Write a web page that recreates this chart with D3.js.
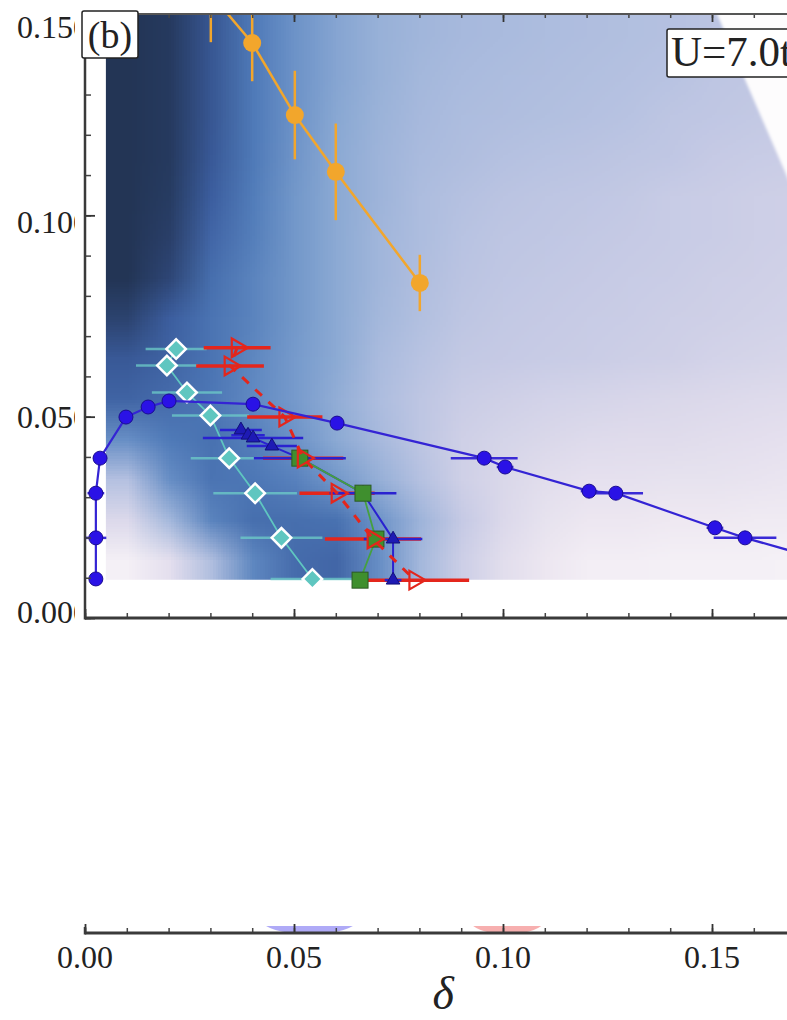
<!DOCTYPE html>
<meta charset="utf-8">
<script src="https://d3js.org/d3.v7.min.js"></script>
<style>
  body { margin: 0; background: #fff; }
  svg { display: block; }
  text { font-family: "Liberation Serif", "DejaVu Serif", serif; fill: #222; }
</style>
<div id="my_dataviz"></div>
<script>

// ---- values ----

// background map: column centres (delta), row centres (y), shading level 0..1
var hmDelta = [0.01,0.02,0.03,0.04,0.05,0.06,0.07,0.08,0.09,0.10,0.11,0.12,0.13,0.14,0.15,0.16,0.17,0.18];
var hmY = [0.145,0.135,0.125,0.115,0.105,0.095,0.085,0.075,0.065,0.055,0.045,0.035,0.025,0.015];
var hmVal = [
  [1.00,0.97,0.83,0.70,0.60,0.52,0.46,0.43,0.41,0.40,0.39,0.38,0.37,0.36,0.34,0.33,0.32,0.31],
  [1.00,0.97,0.83,0.70,0.60,0.52,0.46,0.42,0.40,0.39,0.38,0.37,0.36,0.35,0.33,0.32,0.31,0.30],
  [1.00,0.97,0.83,0.70,0.60,0.51,0.45,0.41,0.39,0.38,0.37,0.36,0.35,0.33,0.32,0.31,0.30,0.29],
  [1.00,0.97,0.82,0.70,0.59,0.50,0.44,0.40,0.38,0.36,0.35,0.34,0.33,0.32,0.30,0.29,0.28,0.27],
  [1.00,0.96,0.80,0.69,0.58,0.50,0.44,0.39,0.36,0.34,0.33,0.32,0.31,0.29,0.28,0.27,0.26,0.25],
  [1.00,0.94,0.77,0.68,0.58,0.50,0.43,0.39,0.35,0.33,0.32,0.31,0.30,0.29,0.28,0.27,0.26,0.25],
  [1.00,0.90,0.74,0.66,0.58,0.50,0.43,0.38,0.34,0.32,0.31,0.30,0.29,0.28,0.27,0.26,0.25,0.24],
  [0.92,0.80,0.72,0.66,0.58,0.50,0.42,0.37,0.33,0.31,0.30,0.29,0.28,0.27,0.26,0.25,0.24,0.23],
  [0.82,0.78,0.72,0.65,0.57,0.50,0.40,0.35,0.31,0.30,0.29,0.28,0.27,0.26,0.24,0.23,0.22,0.21],
  [0.78,0.75,0.71,0.64,0.57,0.48,0.39,0.33,0.28,0.26,0.24,0.23,0.22,0.21,0.20,0.19,0.18,0.17],
  [0.62,0.70,0.73,0.68,0.60,0.50,0.41,0.33,0.26,0.23,0.21,0.19,0.18,0.18,0.17,0.16,0.15,0.14],
  [0.36,0.62,0.72,0.71,0.67,0.58,0.47,0.36,0.26,0.21,0.17,0.15,0.15,0.14,0.14,0.13,0.12,0.12],
  [0.20,0.42,0.66,0.74,0.74,0.73,0.60,0.44,0.30,0.20,0.14,0.11,0.11,0.10,0.10,0.09,0.09,0.08],
  [0.06,0.16,0.38,0.65,0.75,0.77,0.62,0.42,0.27,0.17,0.11,0.07,0.07,0.06,0.06,0.06,0.05,0.05]
];
// white wedge in the upper right corner of the map (its left edge)
var wedgeDelta = [0.1512, 0.1574, 0.1680, 0.1780, 0.1900];
var wedgeY     = [0.1500, 0.1349, 0.1095, 0.0840, 0.0550];

// orange circles, vertical error bars
var orangeDelta = [0.0301, 0.0400, 0.0502, 0.0600, 0.0801];
var orangeY     = [0.1550, 0.1428, 0.1249, 0.1108, 0.0832];
var orangeErr   = [0.0120, 0.0095, 0.0110, 0.0120, 0.0070];

// blue circles, horizontal error bars
var circDelta = [0.0026,0.0026,0.0026,0.0036,0.0098,0.0151,0.0201,0.0402,0.0603,0.0955,0.1005,0.1206,0.1270,0.1507,0.1579,0.1800];
var circY     = [0.0097,0.0199,0.0310,0.0397,0.0499,0.0524,0.0539,0.0531,0.0484,0.0397,0.0375,0.0315,0.0310,0.0224,0.0199,0.0134];
var circErr   = [0.0015,0.0025,0.0020,0.0010,0,0,0,0,0,0.0080,0.0020,0.0020,0.0065,0.0020,0.0075,0];

// blue triangles, horizontal error bars
var triDelta = [0.0373,0.0390,0.0402,0.0447,0.0514,0.0665,0.0737,0.0737];
var triY     = [0.0467,0.0454,0.0447,0.0427,0.0397,0.0310,0.0196,0.0094];
var triErr   = [0.0050,0.0040,0.0120,0.0060,0.0110,0.0080,0.0070,0.0020];

// green squares
var sqDelta = [0.0514,0.0665,0.0696,0.0658];
var sqY     = [0.0397,0.0310,0.0196,0.0094];

// red open triangles, horizontal error bars, dashed line
var redDelta = [0.0364,0.0347,0.0478,0.0522,0.0603,0.0689,0.0789];
var redY     = [0.0671,0.0626,0.0499,0.0397,0.0310,0.0196,0.0094];
var redErr   = [0.0080,0.0081,0.0090,0.0096,0.0090,0.0115,0.0130];

// cyan diamonds, horizontal error bars
var diaDelta = [0.0218,0.0196,0.0244,0.0300,0.0345,0.0407,0.0470,0.0544];
var diaY     = [0.0668,0.0627,0.0560,0.0503,0.0397,0.0310,0.0199,0.0097];
var diaErr   = [0.0073,0.0074,0.0084,0.0092,0.0092,0.0100,0.0098,0.0100];

// lower panel: shapes peeking above its axis
var blobDelta = [0.0537, 0.1010];
var blobHalfW = [0.0115, 0.0090];
var blobColor = ["rgba(110,100,240,0.55)", "rgba(240,110,110,0.55)"];

var tickLabels = ["0.00", "0.05", "0.10", "0.15"];
var tickValues = [0, 0.05, 0.10, 0.15];
var yLabels = ["0.150", "0.100", "0.050", "0.000"];
var yLabelValues = [0.15, 0.10, 0.05, 0.0];

// ---- layout ----
var width = 787, height = 1020;

var x = d3.scaleLinear().domain([0, 0.05]).range([85, 294]);
var y = d3.scaleLinear().domain([0, 0.15]).range([618, 14]);
var yLab = d3.scaleLinear().domain([0, 0.15]).range([612, 27]);
var yBottomAxis = 933;

var svg = d3.select("#my_dataviz")
  .append("svg")
    .attr("width", width)
    .attr("height", height);

svg.append("rect").attr("width", width).attr("height", height).attr("fill", "#fff");

var defs = svg.append("defs");
defs.append("clipPath").attr("id", "plotclip")
  .append("rect")
    .attr("x", x(0)).attr("y", y(0.15))
    .attr("width", width - x(0)).attr("height", y(0) - y(0.15));
defs.append("clipPath").attr("id", "labclip")
  .append("rect").attr("x", 0).attr("y", 0).attr("width", 75).attr("height", 700);
defs.append("clipPath").attr("id", "blobclip")
  .append("rect").attr("x", 0).attr("y", 926).attr("width", width).attr("height", yBottomAxis - 926);
defs.append("filter").attr("id", "soft").attr("x", "-10%").attr("y", "-10%").attr("width", "120%").attr("height", "120%")
  .append("feGaussianBlur").attr("stdDeviation", 1.6);

var plot = svg.append("g").attr("clip-path", "url(#plotclip)");

// background map, drawn as small image and smoothed when scaled up
var shade = d3.scaleLinear()
  .domain([0, 0.1, 0.2, 0.3, 0.4, 0.5, 0.6, 0.7, 0.8, 0.9, 1])
  .range(["#fcfafc","#efe9f2","#dcd9eb","#c6cae5","#aabbde","#8caad4","#6d93c8","#4f7ab8","#3c5e9f","#2e4676","#233555"]);

var cols = hmDelta.length, rows = hmY.length;
var canvas = document.createElement("canvas");
canvas.width = cols; canvas.height = rows;
var ctx = canvas.getContext("2d");
var img = ctx.createImageData(cols, rows);
hmVal.forEach(function(row, j) {
  row.forEach(function(v, i) {
    var c = d3.rgb(shade(v));
    var k = 4 * (j * cols + i);
    img.data[k] = c.r; img.data[k + 1] = c.g; img.data[k + 2] = c.b; img.data[k + 3] = 255;
  });
});
ctx.putImageData(img, 0, 0);

var dx = hmDelta[1] - hmDelta[0];
plot.append("image")
  .attr("href", canvas.toDataURL())
  .attr("x", x(hmDelta[0] - dx / 2))
  .attr("width", x(hmDelta[cols - 1] + dx / 2) - x(hmDelta[0] - dx / 2))
  .attr("y", y(0.15))
  .attr("height", y(0.0095) - y(0.15))
  .attr("preserveAspectRatio", "none");

var line = d3.line().x(function(d) { return x(d[0]); }).y(function(d) { return y(d[1]); });
function pts(a, b) { return a.map(function(v, i) { return [v, b[i]]; }); }

var wedge = pts(wedgeDelta, wedgeY);
wedge.push([0.25, wedgeY[wedgeY.length - 1]], [0.25, 0.16], [wedgeDelta[0], 0.16]);
plot.append("path").attr("d", line(wedge) + "Z")
  .attr("fill", "#fdfcfd").attr("filter", "url(#soft)");

// orange series
var orangeCol = "#f2a62c";
plot.selectAll("orErr").data(d3.range(orangeDelta.length)).enter().append("line")
  .attr("x1", function(i) { return x(orangeDelta[i]); })
  .attr("x2", function(i) { return x(orangeDelta[i]); })
  .attr("y1", function(i) { return y(orangeY[i] - orangeErr[i]); })
  .attr("y2", function(i) { return y(orangeY[i] + orangeErr[i]); })
  .attr("stroke", orangeCol).attr("stroke-width", 2.5);
plot.append("path").attr("d", line(pts(orangeDelta, orangeY)))
  .attr("fill", "none").attr("stroke", orangeCol).attr("stroke-width", 2.5);
plot.selectAll("orDot").data(d3.range(orangeDelta.length)).enter().append("circle")
  .attr("cx", function(i) { return x(orangeDelta[i]); })
  .attr("cy", function(i) { return y(orangeY[i]); })
  .attr("r", 9).attr("fill", orangeCol);

// cyan diamonds
var cyanCol = "#5fc6c0";
plot.selectAll("diaErr").data(d3.range(diaDelta.length)).enter().append("line")
  .attr("x1", function(i) { return x(diaDelta[i] - diaErr[i]); })
  .attr("x2", function(i) { return x(diaDelta[i] + diaErr[i]); })
  .attr("y1", function(i) { return y(diaY[i]); })
  .attr("y2", function(i) { return y(diaY[i]); })
  .attr("stroke", "rgba(110,205,200,0.75)").attr("stroke-width", 2.5);
plot.append("path").attr("d", line(pts(diaDelta, diaY)))
  .attr("fill", "none").attr("stroke", cyanCol).attr("stroke-width", 1.8);
plot.selectAll("diaDot").data(d3.range(diaDelta.length)).enter().append("path")
  .attr("d", d3.symbol().type(d3.symbolSquare).size(190))
  .attr("transform", function(i) { return "translate(" + x(diaDelta[i]) + "," + y(diaY[i]) + ")rotate(45)"; })
  .attr("fill", cyanCol).attr("stroke", "#fff").attr("stroke-width", 2.5);

// red error bars
var redCol = "#e4261c";
plot.selectAll("redErr").data(d3.range(redDelta.length)).enter().append("line")
  .attr("x1", function(i) { return x(redDelta[i] - redErr[i]); })
  .attr("x2", function(i) { return x(redDelta[i] + redErr[i]); })
  .attr("y1", function(i) { return y(redY[i]); })
  .attr("y2", function(i) { return y(redY[i]); })
  .attr("stroke", redCol).attr("stroke-width", 3.5);

// blue triangles
var triCol = "#1e1ab4";
plot.selectAll("triErr").data(d3.range(triDelta.length)).enter().append("line")
  .attr("x1", function(i) { return x(triDelta[i] - triErr[i]); })
  .attr("x2", function(i) { return x(triDelta[i] + triErr[i]); })
  .attr("y1", function(i) { return y(triY[i]); })
  .attr("y2", function(i) { return y(triY[i]); })
  .attr("stroke", "#2a22d0").attr("stroke-width", 2.5);
plot.append("path").attr("d", line(pts(triDelta, triY)))
  .attr("fill", "none").attr("stroke", "#2a22d0").attr("stroke-width", 2);
plot.selectAll("triDot").data(d3.range(triDelta.length)).enter().append("path")
  .attr("d", d3.symbol().type(d3.symbolTriangle).size(80))
  .attr("transform", function(i) { return "translate(" + x(triDelta[i]) + "," + y(triY[i]) + ")"; })
  .attr("fill", triCol).attr("stroke", "#12107a").attr("stroke-width", 1);

// green squares
var greenCol = "#3f8f2e";
plot.append("path").attr("d", line(pts(sqDelta, sqY)))
  .attr("fill", "none").attr("stroke", "#45a040").attr("stroke-width", 1.8);
plot.selectAll("sqDot").data(d3.range(sqDelta.length)).enter().append("rect")
  .attr("x", function(i) { return x(sqDelta[i]) - 8; })
  .attr("y", function(i) { return y(sqY[i]) - 8; })
  .attr("width", 16).attr("height", 16)
  .attr("fill", greenCol).attr("stroke", "#2c5a22").attr("stroke-width", 1);

// red dashed line and open triangles
plot.append("path").attr("d", line(pts(redDelta, redY)))
  .attr("fill", "none").attr("stroke", redCol).attr("stroke-width", 3)
  .attr("stroke-dasharray", "9,9");
plot.selectAll("redDot").data(d3.range(redDelta.length)).enter().append("path")
  .attr("d", d3.symbol().type(d3.symbolTriangle).size(150))
  .attr("transform", function(i) { return "translate(" + x(redDelta[i]) + "," + y(redY[i]) + ")rotate(90)"; })
  .attr("fill", "none").attr("stroke", redCol).attr("stroke-width", 2.2);

// blue circles
var circCol = "#2a12e6";
plot.selectAll("circErr").data(d3.range(circDelta.length)).enter().append("line")
  .attr("x1", function(i) { return x(circDelta[i] - circErr[i]); })
  .attr("x2", function(i) { return x(circDelta[i] + circErr[i]); })
  .attr("y1", function(i) { return y(circY[i]); })
  .attr("y2", function(i) { return y(circY[i]); })
  .attr("stroke", "#3a2ad6").attr("stroke-width", 2.5);
plot.append("path").attr("d", line(pts(circDelta, circY)))
  .attr("fill", "none").attr("stroke", "#3424d4").attr("stroke-width", 2.2);
plot.selectAll("circDot").data(d3.range(circDelta.length)).enter().append("circle")
  .attr("cx", function(i) { return x(circDelta[i]); })
  .attr("cy", function(i) { return y(circY[i]); })
  .attr("r", 7).attr("fill", circCol).attr("stroke", "#1a0c90").attr("stroke-width", 1);

// ---- frame and ticks, top panel ----
var minorT = d3.range(0, 0.2, 0.01), majorT = [0, 0.05, 0.10, 0.15];
var yMinor = d3.range(0, 0.151, 0.01);

function styleTicks(col, w) {
  return function(g) { g.select(".domain").remove(); g.selectAll("line").attr("stroke", col).attr("stroke-width", w); };
}
svg.append("g").attr("transform", "translate(0," + y(0) + ")")
  .call(d3.axisBottom(x).tickValues(minorT).tickSize(-5).tickFormat(""))
  .call(styleTicks("#444", 1.5));
svg.append("g").attr("transform", "translate(0," + y(0) + ")")
  .call(d3.axisBottom(x).tickValues(majorT).tickSize(-9).tickFormat(""))
  .call(styleTicks("#333", 1.8));
svg.append("g").attr("transform", "translate(0," + y(0.15) + ")")
  .call(d3.axisTop(x).tickValues(minorT).tickSize(-4).tickFormat(""))
  .call(styleTicks("#444", 1.5));
svg.append("g").attr("transform", "translate(0," + y(0.15) + ")")
  .call(d3.axisTop(x).tickValues(majorT).tickSize(-8).tickFormat(""))
  .call(styleTicks("#333", 1.8));
svg.append("g").attr("transform", "translate(" + x(0) + ",0)")
  .call(d3.axisLeft(y).tickValues(yMinor).tickSize(-6).tickFormat(""))
  .call(styleTicks("#444", 1.5));
svg.append("g").attr("transform", "translate(" + x(0) + ",0)")
  .call(d3.axisLeft(y).tickValues([0, 0.05, 0.10]).tickSize(-10).tickFormat(""))
  .call(styleTicks("#333", 1.8));

svg.append("line").attr("x1", x(0)).attr("x2", width).attr("y1", y(0.15)).attr("y2", y(0.15))
  .attr("stroke", "#555").attr("stroke-width", 2);
svg.append("line").attr("x1", x(0)).attr("x2", width).attr("y1", y(0)).attr("y2", y(0))
  .attr("stroke", "#3a3a3a").attr("stroke-width", 3);
svg.append("line").attr("x1", x(0)).attr("x2", x(0)).attr("y1", y(0.15)).attr("y2", y(0) + 1.5)
  .attr("stroke", "#3a3a3a").attr("stroke-width", 2.5);

// y labels, last digit cut off as in the figure
svg.append("g").attr("clip-path", "url(#labclip)")
  .selectAll("text").data(yLabels).enter().append("text")
    .attr("x", 17)
    .attr("y", function(d, i) { return yLab(yLabelValues[i]); })
    .attr("dy", "0.35em")
    .attr("font-size", 32)
    .text(function(d) { return d; });

// panel tags
svg.append("rect").attr("x", 82).attr("y", 11).attr("width", 56).attr("height", 47)
  .attr("fill", "#fff").attr("stroke", "#222").attr("stroke-width", 1.5).attr("rx", 2);
svg.append("text").attr("x", 110).attr("y", 48).attr("text-anchor", "middle")
  .attr("font-size", 38).text("(b)");
svg.append("rect").attr("x", 667).attr("y", 29).attr("width", 160).attr("height", 48)
  .attr("fill", "#fff").attr("stroke", "#222").attr("stroke-width", 1.5).attr("rx", 2);
svg.append("text").attr("x", 671).attr("y", 66)
  .attr("font-size", 43).text("U=7.0t");

// ---- lower panel: only its bottom axis is in view ----
svg.append("g").attr("clip-path", "url(#blobclip)")
  .selectAll("ellipse").data(d3.range(blobDelta.length)).enter().append("ellipse")
    .attr("cx", function(i) { return x(blobDelta[i]); })
    .attr("cy", yBottomAxis - 13)
    .attr("rx", function(i) { return x(blobHalfW[i]) - x(0); })
    .attr("ry", 14)
    .attr("fill", function(i) { return blobColor[i]; });

svg.append("g").attr("transform", "translate(0," + yBottomAxis + ")")
  .call(d3.axisBottom(x).tickValues(minorT).tickSize(-5).tickFormat(""))
  .call(styleTicks("#444", 1.5));
svg.append("g").attr("transform", "translate(0," + yBottomAxis + ")")
  .call(d3.axisBottom(x).tickValues(majorT).tickSize(-9).tickFormat(""))
  .call(styleTicks("#333", 1.8));
svg.append("line").attr("x1", x(0)).attr("x2", width).attr("y1", yBottomAxis).attr("y2", yBottomAxis)
  .attr("stroke", "#3a3a3a").attr("stroke-width", 3);
svg.append("line").attr("x1", x(0)).attr("x2", x(0)).attr("y1", yBottomAxis - 6).attr("y2", yBottomAxis + 1.5)
  .attr("stroke", "#3a3a3a").attr("stroke-width", 2.5);

svg.selectAll("xlab").data(tickLabels).enter().append("text")
  .attr("x", function(d, i) { return x(tickValues[i]); })
  .attr("y", 968)
  .attr("text-anchor", "middle")
  .attr("font-size", 32)
  .text(function(d) { return d; });

svg.append("text")
  .attr("x", x(0.0857)).attr("y", 1009)
  .attr("text-anchor", "middle")
  .attr("font-size", 46).attr("font-style", "italic")
  .text("δ");

</script>
